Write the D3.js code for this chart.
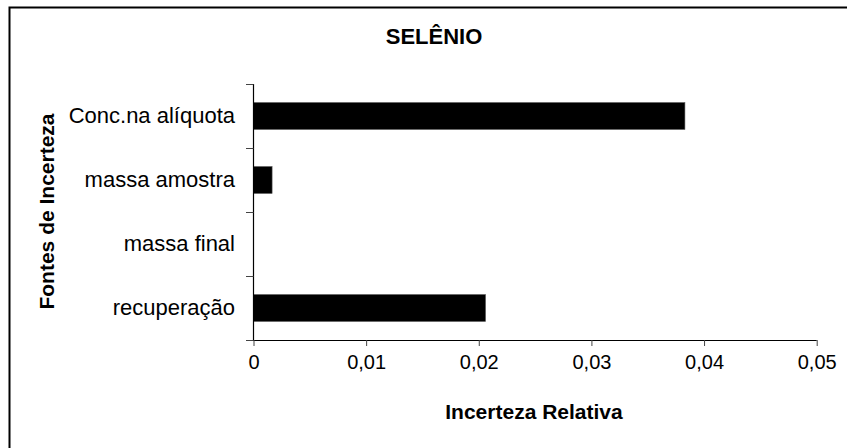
<!DOCTYPE html>
<html>
<head>
<meta charset="utf-8">
<script src="https://cdn.jsdelivr.net/npm/d3@7"></script>
<style>
  html, body { margin: 0; padding: 0; background: #fff; }
  svg { display: block; font-family: "Liberation Sans", Arial, sans-serif; }
</style>
</head>
<body>
<svg id="chart" width="847" height="448"></svg>
<script>
const categories = ["Conc.na alíquota", "massa amostra", "massa final", "recuperação"];
const values = [0.0383, 0.00165, 0, 0.0206];
const xTicks = [0, 0.01, 0.02, 0.03, 0.04, 0.05];
const titleText = "SELÊNIO";
const xTitle = "Incerteza Relativa";
const yTitle = "Fontes de Incerteza";

const svg = d3.select("#chart");

// outer border (right/bottom edges cropped off in reference)
svg.append("rect")
  .attr("x", 9.5).attr("y", 7.5)
  .attr("width", 850).attr("height", 450)
  .attr("fill", "none").attr("stroke", "#000").attr("stroke-width", 2);

const x = d3.scaleLinear().domain([0, 0.05]).range([253.5, 816.7]);
const y = d3.scaleBand().domain(categories).range([84, 340])
  .paddingInner(0.58).paddingOuter(0.29);

// bars
svg.append("g").selectAll("rect")
  .data(categories.map((c, i) => ({ c, v: values[i] })))
  .join("rect")
  .attr("x", x(0))
  .attr("y", d => y(d.c))
  .attr("width", d => x(d.v) - x(0))
  .attr("height", y.bandwidth())
  .attr("fill", "#000")
  .attr("stroke", d => d.v > 0 ? "#555" : "none")
  .attr("stroke-width", 0.6);

// x axis
const xAxis = d3.axisBottom(x)
  .tickValues(xTicks)
  .tickFormat(d => d === 0 ? "0" : d3.format(".2f")(d).replace(".", ","))
  .tickSize(6).tickSizeOuter(0).tickPadding(9);
const gx = svg.append("g").attr("transform", "translate(0,340)").call(xAxis);
gx.select(".domain").attr("d", `M246,0.5H${x(0.05)}`).attr("stroke", "#000").attr("stroke-width", 1.2);
gx.selectAll(".tick line").attr("stroke", "#444");
gx.selectAll(".tick text").attr("font-size", 20).attr("fill", "#000")
  .attr("font-family", "Liberation Sans, Arial, sans-serif");

// y axis: line + ticks at band boundaries
const step = y.step();
const boundaries = d3.range(categories.length + 1).map(i => 84 + i * step);
svg.append("line")
  .attr("x1", x(0)).attr("x2", x(0)).attr("y1", 84).attr("y2", 340)
  .attr("stroke", "#000").attr("stroke-width", 1.2);
svg.append("g").selectAll("line").data(boundaries).join("line")
  .attr("x1", 246).attr("x2", x(0)).attr("y1", d => d + 0.5).attr("y2", d => d + 0.5)
  .attr("stroke", "#444").attr("stroke-width", 1);

// category labels
svg.append("g").selectAll("text").data(categories).join("text")
  .attr("x", 235)
  .attr("y", d => y(d) + y.bandwidth() / 2)
  .attr("dy", "0.33em")
  .attr("text-anchor", "end")
  .attr("font-size", 22)
  .attr("fill", "#000")
  .text(d => d);

// title
svg.append("text")
  .attr("x", 434).attr("y", 43.5)
  .attr("text-anchor", "middle")
  .attr("font-size", 22).attr("font-weight", "bold")
  .text(titleText);

// x title
svg.append("text")
  .attr("x", 534).attr("y", 418.5)
  .attr("text-anchor", "middle")
  .attr("font-size", 21).attr("font-weight", "bold")
  .text(xTitle);

// y title
svg.append("text")
  .attr("transform", "translate(53.5,211.5) rotate(-90)")
  .attr("text-anchor", "middle")
  .attr("font-size", 21).attr("font-weight", "bold")
  .text(yTitle);
</script>
</body>
</html>
